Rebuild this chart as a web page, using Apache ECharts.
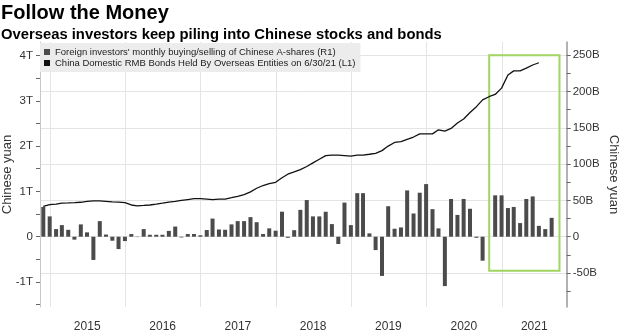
<!DOCTYPE html>
<html>
<head>
<meta charset="utf-8">
<script src="https://cdn.jsdelivr.net/npm/echarts@6/dist/echarts.min.js"></script>
<style>
  html, body { margin: 0; padding: 0; background: #fff; }
  #chart { width: 620px; height: 336px; }
</style>
</head>
<body>
<div id="chart"></div>
<script>
// First month of both series (month index is 0-based: 10 = November)
const FIRST_YEAR = 2014;
const FIRST_MONTH = 10;

// Northbound net buying/selling of A-shares, billions of yuan, monthly Nov 2014 - Aug 2021
const aShareFlows = [
  41, 28, 10.5, 16, 9.5, -4, 17, 6, -32, 21.5, 3, -5.5, -17, -6,
  3.7, -0.5, 10.5, 2.7, 2.7, 2.7, 8, 14, -1, 3.7, 3.7, 2,
  9.2, 25, 10, 9.6, 17, 21.5, 21.5, 27, 20, 3.7, 11.5, 8.3,
  34.5, -1.5, 9, 37, 50.5, 28, 28, 34.4, 17.4, -10, 47, 16,
  60, 60, 4.6, -18.4, -54, 42, 11, 12.8, 63.8, 32, 60.6, 72.5,
  38, 11.5, -68, 52, 30, 52, 38.5, -1.5, -33, 0, 57, 57,
  39.5, 41, 18.8, 52, 55.5, 15, 10.5, 26
];

// Onshore RMB bonds held by overseas entities, trillions of yuan, monthly Nov 2014 - Jun 2021
const bondHoldings = [
  0.67, 0.71, 0.72, 0.74, 0.745, 0.75, 0.76, 0.78, 0.79, 0.79, 0.78, 0.77, 0.765, 0.75,
  0.70, 0.68, 0.69, 0.70, 0.72, 0.74, 0.765, 0.78, 0.80, 0.82, 0.84, 0.84,
  0.83, 0.82, 0.83, 0.83, 0.86, 0.89, 0.93, 0.99, 1.07, 1.13, 1.17, 1.20,
  1.30, 1.38, 1.43, 1.48, 1.55, 1.63, 1.71, 1.79, 1.80, 1.80, 1.79, 1.78,
  1.80, 1.80, 1.82, 1.84, 1.90, 2.00, 2.08, 2.10, 2.15, 2.20, 2.27, 2.27,
  2.27, 2.36, 2.33, 2.39, 2.51, 2.60, 2.74, 2.87, 3.02, 3.09, 3.14, 3.28,
  3.57, 3.66, 3.66, 3.72, 3.79, 3.84
];

const years = [2015, 2016, 2017, 2018, 2019, 2020, 2021];
const leftTicks = [-1, 0, 1, 2, 3, 4];            // trillions
const rightTicks = [-50, 0, 50, 100, 150, 200, 250]; // billions

const seriesNames = [
  "Foreign investors' monthly buying/selling of Chinese A-shares (R1)",
  "China Domestic RMB Bonds Held By Overseas Entities on 6/30/21 (L1)"
];

// highlighted stretch: late 2020 through the latest prints
const highlight = { from: Date.UTC(2020, 10, 1), to: Date.UTC(2021, 9, 8), top: 250, bottom: -47 };

// visible ranges (x in epoch milliseconds)
const xMin = Date.UTC(2014, 10, 14);
const xMax = Date.UTC(2021, 10, 12);
const leftMin = -1.552, leftMax = 4.298;
const rightMin = -96.8, rightMax = 268.2;

function monthEnd(k) {
  return Date.UTC(FIRST_YEAR, FIRST_MONTH + k + 1, 0);
}
function halves(ticks, step) {
  const out = [ticks[0] - step / 2];
  ticks.forEach(t => { out.push(t); out.push(t + step / 2); });
  return out;
}

const yearStarts = years.map(y => Date.UTC(y, 0, 1));
// year labels sit in the middle of each year (last year: middle of its visible part)
const yearLabelPos = years.map(y => y === years[years.length - 1]
  ? (Date.UTC(y, 0, 1) + xMax) / 2
  : Date.UTC(y, 6, 1));

const FONT = '"Liberation Sans", Arial, sans-serif';
const chart = echarts.init(document.getElementById('chart'), null, { renderer: 'canvas' });

chart.setOption({
  animation: false,
  textStyle: { fontFamily: FONT },
  title: [
    { text: 'Follow the Money', left: 1, top: 3, padding: 0,
      textStyle: { fontFamily: FONT, fontSize: 20, fontWeight: 'bold', color: '#000' } },
    { text: 'Overseas investors keep piling into Chinese stocks and bonds', left: 1, top: 27, padding: 0,
      textStyle: { fontFamily: FONT, fontSize: 14.8, fontWeight: 'bold', color: '#000' } }
  ],
  legend: {
    data: seriesNames,
    orient: 'vertical',
    left: 40, top: 43,
    padding: [4, 5, 4, 4],
    itemGap: 1,
    itemWidth: 6, itemHeight: 6,
    icon: 'rect',
    backgroundColor: '#ececec',
    selectedMode: false,
    textStyle: { fontFamily: FONT, fontSize: 9.5, color: '#222', lineHeight: 10 }
  },
  grid: { left: 40, right: 53.3, top: 42, bottom: 29, outerBoundsMode: 'none', containLabel: false },
  xAxis: {
    type: 'value',
    min: xMin, max: xMax,
    axisLine: { show: false },
    axisTick: { show: false, customValues: yearStarts },
    splitLine: { show: true, lineStyle: { color: '#e4e4e4', width: 1 } },
    axisLabel: {
      customValues: yearLabelPos,
      formatter: v => String(new Date(v).getUTCFullYear()),
      margin: 14, fontSize: 12, color: '#333'
    }
  },
  yAxis: [
    {
      type: 'value', position: 'left', min: leftMin, max: leftMax,
      name: 'Chinese yuan', nameLocation: 'middle', nameGap: 26, nameMoveOverlap: false,
      nameTextStyle: { fontSize: 13, color: '#333', fontFamily: FONT },
      axisLine: { show: true, lineStyle: { color: '#c8c8c8', width: 1 } },
      axisTick: { show: true, length: 4, customValues: halves(leftTicks, 1), lineStyle: { color: '#666' } },
      axisLabel: {
        customValues: leftTicks, margin: 7, fontSize: 11.5, color: '#333',
        formatter: v => v === 0 ? '0' : v + 'T'
      },
      splitLine: { show: false }
    },
    {
      type: 'value', position: 'right', min: rightMin, max: rightMax,
      name: 'Chinese yuan', nameLocation: 'middle', nameGap: 40, nameRotate: -90, nameMoveOverlap: false,
      nameTextStyle: { fontSize: 13, color: '#333', fontFamily: FONT },
      axisLine: { show: true, lineStyle: { color: '#999', width: 1.5 } },
      axisTick: { show: true, length: 4, customValues: halves(rightTicks, 50), lineStyle: { color: '#666' } },
      axisLabel: {
        customValues: rightTicks, margin: 6, fontSize: 11.5, color: '#333',
        formatter: v => v === 0 ? '0' : v + 'B'
      },
      splitLine: { show: false }
    },
    {
      // horizontal grid lines on the right-hand scale
      type: 'value', position: 'right', min: rightMin, max: rightMax,
      axisLine: { show: false },
      axisTick: { show: false, customValues: rightTicks },
      axisLabel: { show: false },
      splitLine: { show: true, lineStyle: { color: '#e4e4e4', width: 1 } }
    }
  ],
  series: [
    {
      name: seriesNames[0],
      type: 'bar',
      yAxisIndex: 1,
      barWidth: 4,
      itemStyle: { color: '#4b4b4b' },
      data: aShareFlows.map((v, k) => [monthEnd(k), v]),
      markArea: {
        silent: true,
        itemStyle: { color: 'rgba(0,0,0,0)', borderColor: '#a2d462', borderWidth: 2 },
        label: { show: false },
        data: [[
          { xAxis: highlight.from, yAxis: highlight.top },
          { xAxis: highlight.to, yAxis: highlight.bottom }
        ]]
      }
    },
    {
      name: seriesNames[1],
      type: 'line',
      yAxisIndex: 0,
      symbol: 'none',
      z: 3,
      itemStyle: { color: '#111' },
      lineStyle: { color: '#111', width: 1.3 },
      data: bondHoldings.map((v, k) => [monthEnd(k), v])
    }
  ]
});
</script>
</body>
</html>
